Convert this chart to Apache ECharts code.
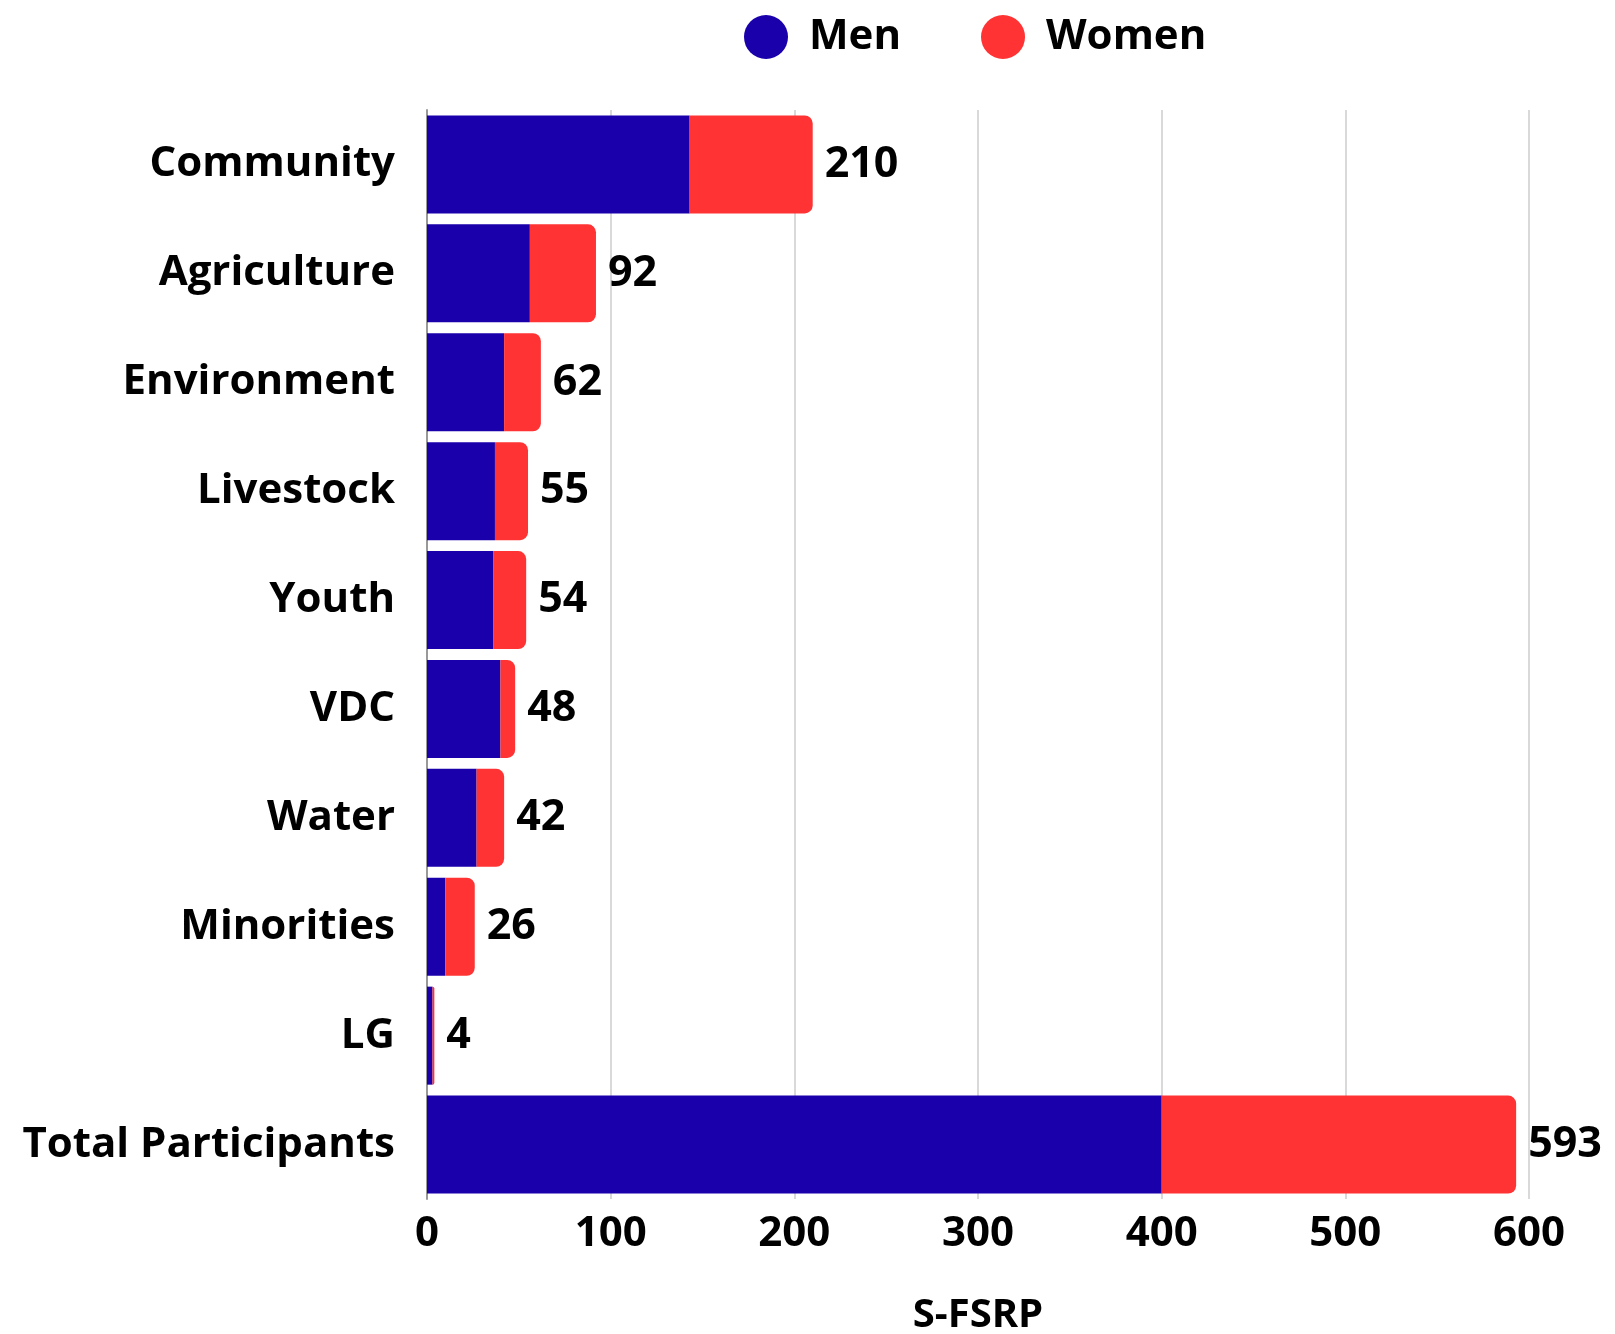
<!DOCTYPE html>
<html>
<head>
<meta charset="utf-8">
<script src="https://cdn.jsdelivr.net/npm/echarts@6/dist/echarts.min.js"></script>
<style>
  html, body { margin: 0; padding: 0; background: #fff; }
  #chart { width: 1615px; height: 1334px; }
</style>
</head>
<body>
<div id="chart"></div>
<script>
// categories, top to bottom
const categories = ['Community', 'Agriculture', 'Environment', 'Livestock', 'Youth', 'VDC', 'Water', 'Minorities', 'LG', 'Total Participants'];
const menValues = [143, 56, 42, 37, 36, 40, 27, 10, 3, 400];
const womenValues = [67, 36, 20, 18, 18, 8, 15, 16, 1, 193];
const totals = [210, 92, 62, 55, 54, 48, 42, 26, 4, 593];
const xTicks = [0, 100, 200, 300, 400, 500, 600];

const FONT = '"Open Sans", "Noto Sans", sans-serif';

const myChart = echarts.init(document.getElementById('chart'));
const option = {
  backgroundColor: '#ffffff',
  animation: false,
  legend: {
    top: 10,
    left: 739,
    icon: 'circle',
    itemWidth: 44,
    itemHeight: 44,
    itemGap: 80,
    textStyle: {
      fontFamily: FONT,
      fontSize: 42,
      fontWeight: 'bold',
      color: '#000',
      padding: [0, 0, 0, 16]
    },
    data: ['Men', 'Women']
  },
  grid: {
    left: 427,
    right: 86,
    top: 110,
    height: 1089,
    outerBoundsMode: 'none'
  },
  xAxis: {
    type: 'value',
    min: xTicks[0],
    max: xTicks[xTicks.length - 1],
    interval: 100,
    name: 'S-FSRP',
    nameLocation: 'middle',
    nameGap: 97,
    nameTextStyle: {
      fontFamily: FONT,
      fontSize: 40,
      fontWeight: 'bold',
      color: '#000'
    },
    axisLine: {show: false},
    axisTick: {show: false},
    axisLabel: {
      margin: 14,
      fontFamily: FONT,
      fontSize: 42,
      fontWeight: 'bold',
      color: '#000'
    },
    splitLine: {lineStyle: {color: '#cccccc', width: 1.5}}
  },
  yAxis: {
    type: 'category',
    inverse: true,
    data: categories,
    axisLine: {show: true, lineStyle: {color: '#999999', width: 2}},
    axisTick: {show: false},
    axisLabel: {
      margin: 32,
      fontFamily: FONT,
      fontSize: 42,
      fontWeight: 'bold',
      color: '#000'
    }
  },
  series: [
    {
      name: 'Men',
      type: 'bar',
      stack: 'total',
      barCategoryGap: '10%',
      itemStyle: {color: '#1900AB'},
      data: menValues
    },
    {
      name: 'Women',
      type: 'bar',
      stack: 'total',
      barCategoryGap: '10%',
      itemStyle: {color: '#FF3333', borderRadius: [0, 8, 8, 0]},
      label: {
        show: true,
        position: 'right',
        distance: 12,
        fontFamily: FONT,
        fontSize: 43,
        fontWeight: 'bold',
        color: '#000',
        formatter: function (p) {
          return totals[p.dataIndex];
        }
      },
      data: womenValues
    }
  ]
};
myChart.setOption(option);
</script>
</body>
</html>
